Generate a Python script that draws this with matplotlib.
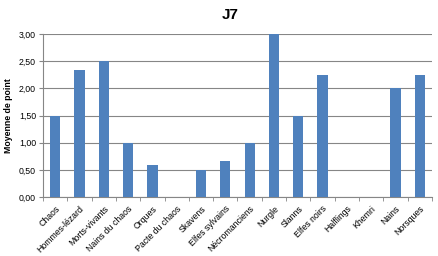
import numpy as np
import matplotlib
matplotlib.use("Agg")
import matplotlib.pyplot as plt

# -----------------------------
# Données
# -----------------------------
armees = ["Chaos", "Hommes-lézard", "Morts-vivants", "Nains du chaos", "Orques",
          "Pacte du chaos", "Skavens", "Elfes sylvains", "Nécromanciens", "Nurgle",
          "Slanns", "Elfes noirs", "Halflings", "Khemri", "Nains", "Norsques"]
moyennes = [1.5, 2.33, 2.5, 1.0, 0.6, 0.0, 0.5, 0.67, 1.0, 3.0,
            1.5, 2.25, 0.0, 0.0, 2.0, 2.25]
yticks = [0, 0.5, 1.0, 1.5, 2.0, 2.5, 3.0]

plt.rcParams['font.family'] = ['Liberation Sans', 'DejaVu Sans']

fig = plt.figure(figsize=(4.39, 2.56), dpi=100)
ax = fig.add_axes([0.098, 0.23, 0.886, 0.637])

x = np.arange(len(armees))
ax.bar(x, moyennes, width=0.42, color="#4F81BD", zorder=3)

ax.set_xlim(-0.5, len(armees) - 0.5)
ax.set_ylim(0, 3)
ax.set_yticks(yticks)
ax.set_yticklabels([f"{v:.2f}".replace(".", ",") for v in yticks], fontsize=6.3)
ax.grid(axis="y", color="#868686", linewidth=0.8, zorder=0)

ax.set_xticks(x)
ax.set_xticklabels(armees, rotation=45, ha="right", rotation_mode="anchor", fontsize=6.3)
ax.tick_params(axis="x", which="major", length=0, pad=5)
ax.set_xticks(np.arange(-0.5, len(armees)), minor=True)
ax.tick_params(axis="x", which="minor", length=3, color="#868686")
ax.tick_params(axis="y", length=3, color="#868686", pad=2)

for s in ["top", "right"]:
    ax.spines[s].set_visible(False)
for s in ["left", "bottom"]:
    ax.spines[s].set_color("#868686")

ax.set_ylabel("Moyenne de point", fontsize=6.3, fontweight="bold")
fig.text(0.524, 0.94, "J7", ha="center", va="center", fontsize=11, fontweight="bold")

plt.savefig("out.png", dpi=100)
